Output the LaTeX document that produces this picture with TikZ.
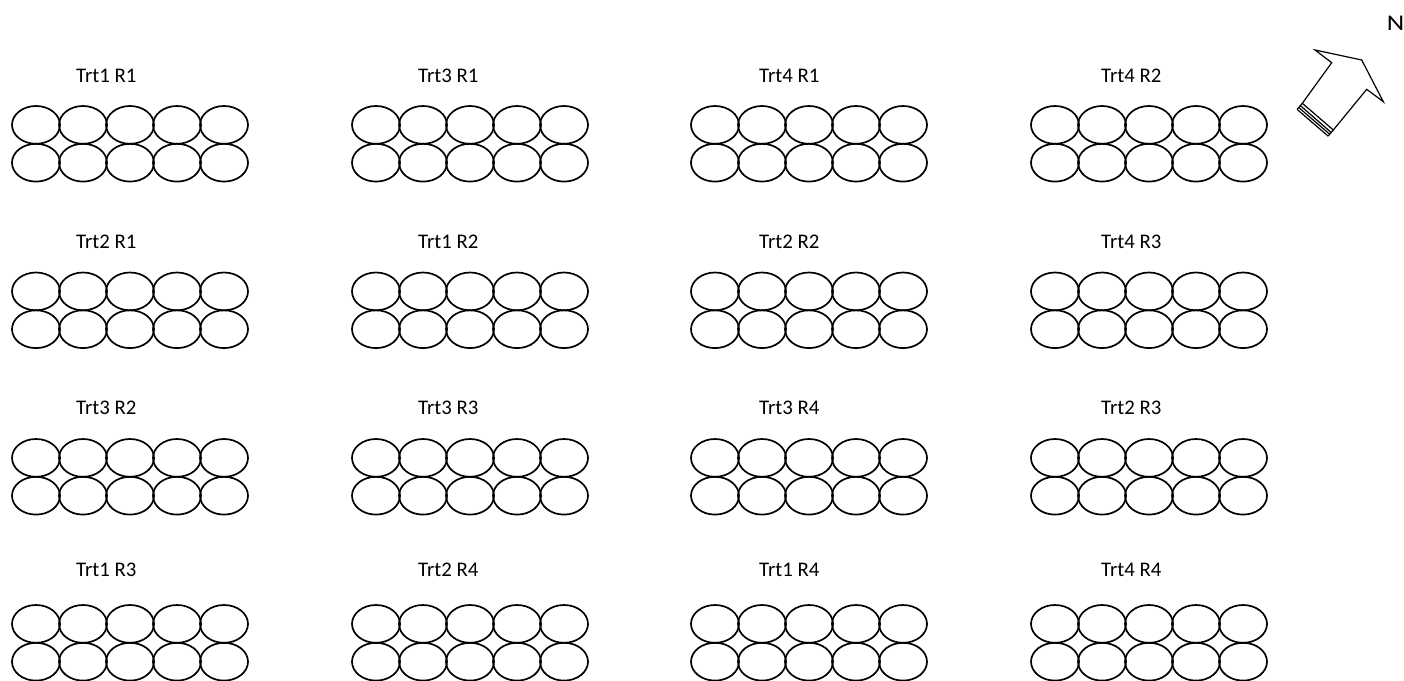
\documentclass[tikz,border=0pt]{standalone}
\usepackage{fontspec}
\setmainfont{Carlito}
\usetikzlibrary{shapes.geometric}
\begin{document}
\begin{tikzpicture}[x=1pt,y=-1pt,
  plotcell/.style={ellipse, draw, line width=1.7pt, minimum width=48pt, minimum height=37.8pt, inner sep=0pt},
  lbl/.style={anchor=west, font=\fontsize{20.8}{24}\selectfont, inner sep=0pt},
  arrowline/.style={line width=1.2pt, line join=miter}]
\useasboundingbox (0,0) rectangle (1404,680);

% plots: two rows of five ellipses each
\foreach \r/\ty in {1/106, 2/272.5, 3/439, 4/605}{
  \foreach \c/\bx in {1/12, 2/352, 3/691, 4/1031}{
    \foreach \i in {1,...,5}{
      \node[plotcell] (p\r\c a\i) at ({\bx+24+47*(\i-1)}, {\ty+18.9}) {};
      \node[plotcell] (p\r\c b\i) at ({\bx+24+47*(\i-1)}, {\ty+18.9+37.8}) {};
    }
  }
}

% labels
\node[lbl] (l11) at (76,76) {Trt1 R1};
\node[lbl] (l12) at (418,76) {Trt3 R1};
\node[lbl] (l13) at (759,76) {Trt4 R1};
\node[lbl] (l14) at (1101,76) {Trt4 R2};
\node[lbl] (l21) at (76,242) {Trt2 R1};
\node[lbl] (l22) at (418,242) {Trt1 R2};
\node[lbl] (l23) at (759,242) {Trt2 R2};
\node[lbl] (l24) at (1101,242) {Trt4 R3};
\node[lbl] (l31) at (76,408) {Trt3 R2};
\node[lbl] (l32) at (418,408) {Trt3 R3};
\node[lbl] (l33) at (759,408) {Trt3 R4};
\node[lbl] (l34) at (1101,408) {Trt2 R3};
\node[lbl] (l41) at (76,570) {Trt1 R3};
\node[lbl] (l42) at (418,570) {Trt2 R4};
\node[lbl] (l43) at (759,570) {Trt1 R4};
\node[lbl] (l44) at (1101,570) {Trt4 R4};

% north arrow
\node[font=\fontsize{22.5}{26}\selectfont, inner sep=0pt] (north) at (1395.5,23.5) {\scalebox{1.2}[1]{N}};
\coordinate (A) at (1315,50);
\coordinate (B) at (1361.7,60);
\coordinate (C) at (1383.3,101.7);
\coordinate (D) at (1366.7,89.3);
\coordinate (E) at (1333.3,130);
\coordinate (F) at (1302.3,103.3);
\coordinate (G) at (1331.7,62.7);
\coordinate (F3) at (1300.3,105.6);
\coordinate (E3) at (1331.0,132.3);
\coordinate (F5) at (1298.7,107.5);
\coordinate (E5) at (1329.7,134.2);
\coordinate (F8) at (1297.1,109.4);
\coordinate (E8) at (1328.1,136.1);
\draw[arrowline] (F) -- (G) -- (A) -- (B) -- (C) -- (D) -- (E) -- cycle;
\draw[arrowline] (F3) -- (E3);
\draw[arrowline] (F5) -- (E5);
\draw[arrowline] (F8) -- (E8);
\draw[arrowline] (F) -- (F8);
\draw[arrowline] (E) -- (E8);
\end{tikzpicture}
\end{document}
